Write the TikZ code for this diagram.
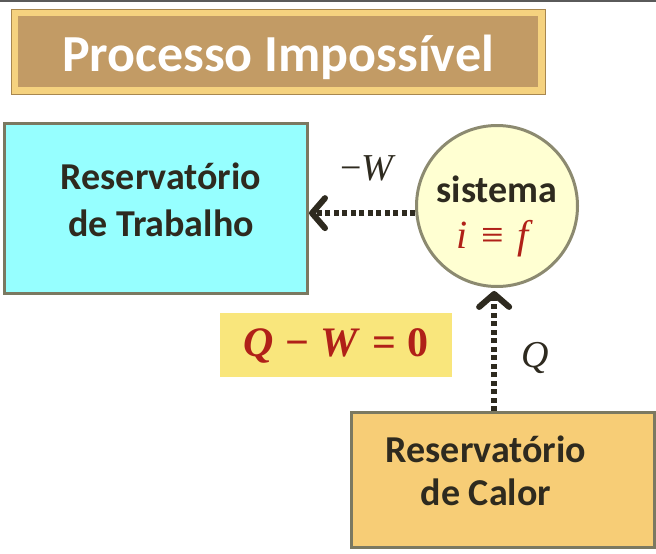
\documentclass[tikz,border=0pt]{standalone}
\usepackage{fontspec}
\setmainfont{Carlito}
\newfontfamily\eqfont{Liberation Serif}
\usetikzlibrary{arrows.meta}
\definecolor{cyanfill}{HTML}{96FFFF}
\definecolor{edgeol}{HTML}{7B7961}
\definecolor{circfill}{HTML}{FFFFD2}
\definecolor{circedge}{HTML}{8C8A70}
\definecolor{heatfill}{HTML}{F7CD76}
\definecolor{eqfill}{HTML}{F9E67C}
\definecolor{redtxt}{HTML}{B02018}
\definecolor{darktxt}{HTML}{2E2A1F}
\definecolor{titlefill}{HTML}{C29B65}
\definecolor{titlebevel}{HTML}{F5D27F}
\definecolor{titleedge}{HTML}{A8874F}
\definecolor{topline}{HTML}{5A5A5A}
\begin{document}
\begin{tikzpicture}[x=1pt,y=-1pt,
  box/.style={draw=edgeol, line width=3pt, inner sep=0pt, anchor=north west},
  lbl/.style={text=darktxt, font=\bfseries\fontsize{38}{44}\selectfont, anchor=base, inner sep=0pt},
  mathlbl/.style={text=darktxt, font=\eqfont\fontsize{38}{44}\selectfont, anchor=base, inner sep=0pt},
  flow/.style={draw=darktxt, line width=6pt, dash pattern=on 5pt off 3.5pt,
    -{Straight Barb[length=13pt,width=30pt,line width=6pt,round]}}]
\useasboundingbox (0,0) rectangle (656,554);
\draw[topline, line width=2pt] (0,1) -- (656,1);
% title
\node[draw=titleedge, line width=0.8pt, fill=titlebevel, minimum width=534pt, minimum height=85pt, inner sep=0pt, anchor=north west] (tb) at (11,9) {};
\node[fill=titlefill, minimum width=520pt, minimum height=71pt, inner sep=0pt] (tin) at (tb.center) {};
\node[text=white, font=\bfseries\fontsize{52}{58}\selectfont, anchor=base, inner sep=0pt] (tt) at (278,71) {Processo Impossível};
% work reservoir
\node[box, fill=cyanfill, minimum width=303pt, minimum height=170pt] (work) at (3,122) {};
\node[lbl] (w1) at (161,189) {Reservatório};
\node[lbl] (w2) at (161,236) {de Trabalho};
% system
\node[circle, draw=circedge, line width=3pt, fill=circfill, minimum size=161pt, inner sep=0pt] (sys) at (497,206) {};
\node[lbl] (s1) at (497,202) {sistema};
\node[text=redtxt, font=\eqfont\fontsize{40}{46}\selectfont, anchor=base, inner sep=0pt] (s2) at (495,248) {\textit{i}\hspace{0.35em}≡\hspace{0.35em}\textit{f}};
% heat reservoir
\node[box, fill=heatfill, minimum width=303pt, minimum height=135pt] (heat) at (350,411) {};
\node[lbl] (h1) at (486,462) {Reservatório};
\node[lbl] (h2) at (486,505) {de Calor};
% equation
\node[fill=eqfill, minimum width=232pt, minimum height=64pt, inner sep=0pt] (eq) at (336,345) {};
\node[text=redtxt, font=\eqfont\bfseries\fontsize{42}{48}\selectfont, anchor=base, inner sep=0pt] (eqt) at (336,356) {\textit{Q}\;−\;\textit{W}\;=\;0};
% arrows
\draw[flow] (sys.185) -- (sys.185 -| work.east);
\node[mathlbl] (lw) at (368,180) {−\textit{W}};
\draw[flow, shorten >=3pt] (sys.268 |- heat.north) -- (sys.268);
\node[mathlbl] (lq) at (535,367) {\textit{Q}};
\end{tikzpicture}
\end{document}
